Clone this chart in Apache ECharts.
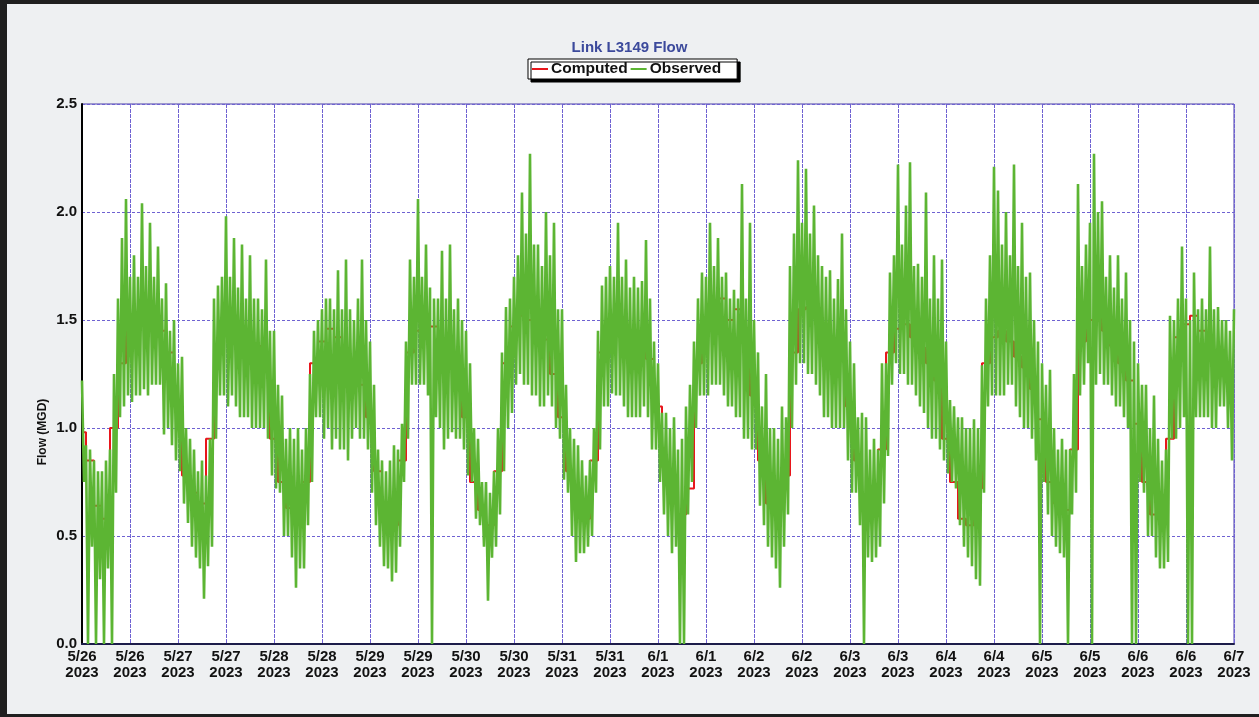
<!DOCTYPE html>
<html>
<head>
<meta charset="utf-8">
<script src="https://cdn.jsdelivr.net/npm/echarts/dist/echarts.min.js"></script>
<style>
html,body{margin:0;padding:0;background:#eef0f2;}
#chart{position:absolute;left:0;top:0;width:1259px;height:717px;}
#frame{position:absolute;left:0;top:0;width:1259px;height:717px;box-sizing:border-box;border-left:7px solid #1f1f1f;border-top:4px solid #1f1f1f;border-bottom:3px solid #1f1f1f;pointer-events:none;}
</style>
</head>
<body>
<div id="chart"></div>
<div id="frame"></div>
<script>
// X tick labels (every 12 hours from 5/26 00:00 to 6/7 00:00)
const xTickLabels = ['5/26','5/26','5/27','5/27','5/28','5/28','5/29','5/29','5/30','5/30','5/31','5/31',
  '6/1','6/1','6/2','6/2','6/3','6/3','6/4','6/4','6/5','6/5','6/6','6/6','6/7'];
const yearLabel = '2023';
const yTicks = [0.0, 0.5, 1.0, 1.5, 2.0, 2.5];

// Observed flow (MGD): highest reading within each hour (hour 0 = 5/26 00:00)
const observedHigh = [
  1.22, 0.92, 0.9, 0.85, 0.8, 0.8, 0.85, 0.9, 1.25, 1.6, 1.88, 2.06,
  1.7, 1.8, 1.7, 2.04, 1.75, 1.95, 1.7, 1.84, 1.6, 1.67, 1.45, 1.5,
  1.3, 1.33, 1.0, 0.95, 0.9, 0.8, 0.85, 0.78, 0.95, 1.6, 1.66, 1.7,
  1.98, 1.7, 1.88, 1.65, 1.85, 1.6, 1.8, 1.6, 1.6, 1.55, 1.78, 1.45,
  1.45, 1.2, 1.15, 0.95, 1.0, 0.95, 1.0, 0.9, 1.0, 1.25, 1.45, 1.5,
  1.55, 1.6, 1.6, 1.55, 1.73, 1.55, 1.78, 1.55, 1.5, 1.6, 1.78, 1.5,
  1.4, 1.2, 0.9, 0.85, 0.8, 0.85, 0.92, 0.9, 1.02, 1.4, 1.78, 1.7,
  2.06, 1.7, 1.85, 1.65, 1.6, 1.6, 1.82, 1.6, 1.85, 1.55, 1.6, 1.5,
  1.45, 1.3, 1.0, 0.95, 0.75, 0.75, 0.7, 0.8, 1.0, 1.35, 1.56, 1.6,
  1.7, 1.8, 2.09, 1.9, 2.27, 1.85, 1.85, 1.75, 2.0, 1.8, 1.95, 1.55,
  1.55, 1.2, 1.0, 0.95, 0.92, 0.85, 0.78, 0.85, 1.0, 1.45, 1.66, 1.7,
  1.75, 1.7, 1.95, 1.7, 1.78, 1.65, 1.7, 1.65, 1.68, 1.87, 1.6, 1.4,
  1.3, 1.07, 1.07, 1.0, 1.05, 0.9, 0.95, 1.1, 1.2, 1.4, 1.6, 1.72,
  1.7, 1.95, 1.75, 1.88, 1.7, 1.72, 1.6, 1.64, 1.6, 2.13, 1.6, 1.95,
  1.5, 1.35, 1.1, 1.25, 1.0, 1.0, 0.95, 1.1, 1.05, 1.75, 1.9, 2.24,
  1.95, 2.2, 1.9, 2.03, 1.8, 1.75, 1.7, 1.73, 1.6, 1.69, 1.9, 1.55,
  1.4, 1.3, 1.05, 1.07, 1.05, 0.9, 0.95, 0.9, 1.3, 1.3, 1.72, 1.8,
  2.22, 1.85, 2.03, 2.23, 1.75, 1.76, 1.7, 2.09, 1.6, 1.8, 1.6, 1.78,
  1.4, 1.13, 1.1, 1.05, 1.05, 1.0, 1.0, 1.04, 1.0, 1.29, 1.6, 1.8,
  2.21, 2.1, 1.85, 2.0, 1.8, 2.22, 1.75, 1.95, 1.7, 1.72, 1.5, 1.4,
  1.3, 1.2, 1.27, 1.0, 0.9, 0.95, 0.9, 0.9, 1.25, 2.13, 1.75, 1.85,
  1.95, 2.27, 2.0, 2.05, 1.7, 1.8, 1.65, 1.8, 1.6, 1.72, 1.5, 1.4,
  1.3, 1.2, 1.2, 1.0, 1.15, 0.95, 0.85, 0.9, 1.52, 1.5, 1.6, 1.84,
  1.6, 1.5, 1.72, 1.55, 1.6, 1.55, 1.84, 1.55, 1.56, 1.5, 1.5, 1.45,
  1.55
];

// Observed flow (MGD): lowest reading within each hour
const observedLow = [
  0.75, 0, 0.45, 0, 0.3, 0, 0.35, 0, 0.7, 1.05, 1.1, 1.15,
  1.12, 1.15, 1.15, 1.18, 1.15, 1.2, 1.2, 1.2, 0.97, 1.0, 0.92, 0.85,
  0.8, 0.65, 0.56, 0.45, 0.4, 0.35, 0.21, 0.36, 0.45, 0.95, 1.15, 1.15,
  1.1, 1.15, 1.1, 1.05, 1.05, 1.05, 1.0, 1.0, 1.0, 1.0, 0.95, 0.78,
  0.72, 0.7, 0.5, 0.5, 0.4, 0.26, 0.35, 0.35, 0.55, 0.75, 1.05, 1.05,
  0.95, 1.0, 0.9, 0.95, 0.9, 0.9, 0.85, 0.95, 1.0, 0.95, 0.95, 0.9,
  0.7, 0.55, 0.45, 0.36, 0.35, 0.29, 0.33, 0.45, 0.75, 0.95, 1.2, 1.2,
  1.2, 1.2, 1.15, 0, 1.05, 1.0, 0.9, 0.95, 0.98, 0.95, 0.95, 0.9,
  0.78, 0.75, 0.58, 0.55, 0.45, 0.2, 0.4, 0.45, 0.6, 0.8, 1.0, 1.07,
  1.2, 1.25, 1.2, 1.2, 1.15, 1.15, 1.1, 1.1, 1.15, 1.1, 1.0, 0.95,
  0.76, 0.7, 0.5, 0.38, 0.42, 0.42, 0.45, 0.5, 0.7, 0.9, 1.1, 1.1,
  1.16, 1.15, 1.15, 1.1, 1.05, 1.05, 1.05, 1.05, 1.1, 1.05, 0.9, 0.9,
  0.75, 0.6, 0.5, 0.42, 0.45, 0, 0, 0.6, 0.75, 1.0, 1.15, 1.15,
  1.15, 1.2, 1.2, 1.2, 1.15, 1.1, 1.1, 1.05, 1.05, 0.95, 0.95, 0.9,
  0.9, 0.64, 0.55, 0.45, 0.4, 0.35, 0.26, 0.45, 0.6, 1.0, 1.2, 1.3,
  1.3, 1.25, 1.25, 1.2, 1.15, 1.05, 1.05, 1.0, 1.0, 1.0, 1.0, 0.85,
  0.7, 0.7, 0.55, 0, 0.4, 0.38, 0.4, 0.45, 0.65, 0.87, 1.2, 1.3,
  1.25, 1.25, 1.2, 1.2, 1.15, 1.1, 1.07, 1.0, 0.95, 0.95, 0.9, 0.85,
  0.79, 0.75, 0.72, 0.55, 0.45, 0.4, 0.36, 0.3, 0.27, 0.7, 1.1, 1.15,
  1.15, 1.15, 1.15, 1.2, 1.2, 1.1, 1.05, 1.0, 1.0, 0.95, 0.85, 0,
  0.75, 0.6, 0.5, 0.45, 0.42, 0.4, 0, 0.6, 0.7, 1.15, 1.2, 1.3,
  0, 1.2, 1.25, 1.2, 1.2, 1.15, 1.1, 1.1, 1.05, 1.0, 0, 0,
  0.75, 0.7, 0.5, 0.5, 0.4, 0.35, 0.35, 0.38, 0.95, 0.95, 1.0, 1.05,
  0, 0, 1.05, 1.05, 1.05, 1.05, 1.0, 1.0, 1.1, 1.1, 1.0, 0.85,
  0.82
];

// Computed flow (MGD), every 2 hours (hour 0 = 5/26 00:00)
const computed = [
  0.98, 0.85, 0.64, 0.58, 1.0, 1.3, 1.45, 1.5, 1.5, 1.48, 1.45, 1.35,
  1.1, 0.78, 0.7, 0.65, 0.95, 1.35, 1.48, 1.52, 1.45, 1.39, 1.38, 1.28,
  0.95, 0.75, 0.63, 0.6, 0.75, 1.3, 1.4, 1.46, 1.42, 1.36, 1.3, 1.2,
  1.05, 0.8, 0.65, 0.55, 0.85, 1.35, 1.45, 1.47, 1.47, 1.4, 1.33, 1.25,
  1.05, 0.75, 0.62, 0.55, 0.8, 1.3, 1.47, 1.52, 1.5, 1.47, 1.41, 1.25,
  1.05, 0.8, 0.68, 0.58, 0.85, 1.35, 1.47, 1.53, 1.45, 1.41, 1.42, 1.32,
  1.1, 0.82, 0.65, 0.6, 0.72, 1.3, 1.45, 1.55, 1.6, 1.5, 1.55, 1.44,
  1.15, 0.85, 0.65, 0.63, 0.78, 1.35, 1.55, 1.56, 1.52, 1.45, 1.4, 1.32,
  1.1, 0.85, 0.63, 0.65, 0.9, 1.35, 1.46, 1.48, 1.42, 1.37, 1.3, 1.22,
  0.95, 0.75, 0.58, 0.55, 0.72, 1.3, 1.42, 1.45, 1.4, 1.33, 1.28, 1.18,
  1.04, 0.75, 0.65, 0.62, 0.9, 1.4, 1.5, 1.53, 1.45, 1.38, 1.3, 1.22,
  1.02, 0.75, 0.6, 0.58, 0.95, 1.42, 1.48, 1.52, 1.45, 1.38, 1.32, 1.27,
  1.15
];

const computedStepHours = 2;

// Observed series: within each hour, the high reading then the low reading
const observedData = [];
observedHigh.forEach(function (v, h) {
  observedData.push([h, v]);
  if (h < observedHigh.length - 1) observedData.push([h + 0.5, observedLow[h]]);
});

const FONT = '"Liberation Sans", Arial, sans-serif';
const chart = echarts.init(document.getElementById('chart'), null, {renderer: 'canvas'});

chart.setOption({
  animation: false,
  backgroundColor: '#eef0f2',
  title: {
    text: 'Link L3149 Flow',
    left: 'center',
    top: 40,
    padding: 0,
    textStyle: {fontFamily: FONT, fontSize: 15, fontWeight: 'bold', color: '#3c4a9c'}
  },
  legend: {
    left: 528,
    top: 59,
    padding: [2, 16, 2, 4],
    itemGap: 3,
    itemWidth: 16,
    itemHeight: 2,
    icon: 'rect',
    backgroundColor: '#ffffff',
    borderColor: '#000000',
    borderWidth: 1,
    shadowColor: '#000000',
    shadowBlur: 0,
    shadowOffsetX: 3,
    shadowOffsetY: 3,
    textStyle: {fontFamily: FONT, fontSize: 15.5, fontWeight: 'bold', color: '#111', padding: [0, 0, 0, -2]},
    data: ['Computed', 'Observed']
  },
  grid: {
    left: 82, right: 25, top: 104, bottom: 73,
    show: true, backgroundColor: '#ffffff', borderColor: '#4a3fa8', borderWidth: 1
  },
  graphic: [{
    type: 'text',
    x: 43, y: 432,
    rotation: Math.PI / 2,
    style: {text: 'Flow (MGD)', font: 'bold 12px ' + FONT, fill: '#111', align: 'center', verticalAlign: 'middle'}
  }],
  xAxis: {
    type: 'value',
    min: 0,
    max: (xTickLabels.length - 1) * 12,
    interval: 12,
    axisLine: {show: true, onZero: false, lineStyle: {color: '#1c1c4a', width: 2}},
    axisTick: {show: false},
    splitLine: {show: true, lineStyle: {color: '#6f62d2', width: 1, type: [4, 1]}},
    axisLabel: {
      margin: 5,
      fontFamily: FONT, fontSize: 15, fontWeight: 'bold', color: '#111', lineHeight: 16,
      formatter: function (v) { return xTickLabels[Math.round(v / 12)] + '\n' + yearLabel; }
    }
  },
  yAxis: {
    type: 'value',
    min: yTicks[0],
    max: yTicks[yTicks.length - 1],
    interval: 0.5,
    axisLine: {show: true, onZero: false, lineStyle: {color: '#000', width: 2}},
    axisTick: {show: false},
    splitLine: {show: true, lineStyle: {color: '#6f62d2', width: 1, type: [3, 2]}},
    axisLabel: {
      margin: 5,
      fontFamily: FONT, fontSize: 15, fontWeight: 'bold', color: '#111',
      formatter: function (v) { return v.toFixed(1); }
    }
  },
  series: [
    {
      name: 'Computed',
      type: 'line',
      step: 'middle',
      showSymbol: false,
      symbol: 'none',
      color: '#e8161c',
      lineStyle: {color: '#e8161c', width: 2},
      data: computed.map(function (v, i) { return [i * computedStepHours, v]; }),
      z: 2
    },
    {
      name: 'Observed',
      type: 'line',
      showSymbol: false,
      symbol: 'none',
      color: '#5cb533',
      lineStyle: {color: '#5cb533', width: 2.6, join: 'bevel'},
      data: observedData,
      z: 3
    }
  ]
});
</script>
</body>
</html>
